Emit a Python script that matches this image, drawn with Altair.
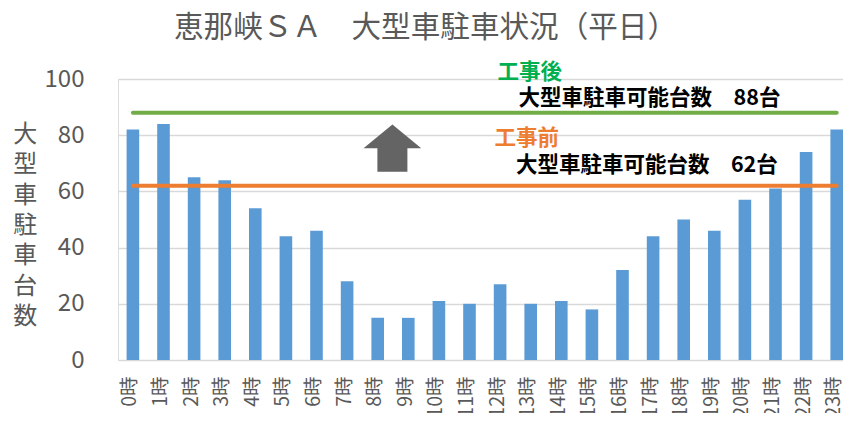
import altair as alt
import pandas as pd

# ---- data ----
hours = ["0時", "1時", "2時", "3時", "4時", "5時", "6時", "7時", "8時", "9時",
         "10時", "11時", "12時", "13時", "14時", "15時", "16時", "17時", "18時",
         "19時", "20時", "21時", "22時", "23時"]
parked = [82, 84, 65, 64, 54, 44, 46, 28, 15, 15, 21, 20, 27, 20, 21, 18,
          32, 44, 50, 46, 57, 61, 74, 82]
capacity_after = 88
capacity_before = 62
y_ticks = [0, 20, 40, 60, 80, 100]

title_text = "恵那峡ＳＡ　大型車駐車状況（平日）"
y_title = "大型車駐車台数"
label_after = "工事後"
label_before = "工事前"
cap_text_after = f"大型車駐車可能台数　{capacity_after}台"
cap_text_before = f"大型車駐車可能台数　{capacity_before}台"

FONT = "'Liberation Sans Narrow', 'Noto Sans CJK JP', sans-serif"
CJK = "'Noto Sans CJK JP', sans-serif"
GREY = "#595959"

bars_df = pd.DataFrame({"hour": hours, "count": parked})
lines_df = pd.DataFrame({
    "hour": [hours[0], hours[-1], hours[0], hours[-1]],
    "value": [capacity_after, capacity_after, capacity_before, capacity_before],
    "series": ["after", "after", "before", "before"],
})

x_scale = alt.Scale(domain=hours, paddingInner=0.588, paddingOuter=0.1405,
                    align=1, round=False)
y_scale = alt.Scale(domain=[0, 100], nice=False)

x_axis = alt.Axis(title=None, labelAngle=270, labelFontSize=19.5, labelFont=FONT,
                  labelColor=GREY, labelPadding=16, labelOffset=-2.5,
                  ticks=False, domain=False, grid=False)
y_axis = alt.Axis(values=y_ticks, title=list(y_title), titleAngle=0,
                  titleFontSize=24, titleFont=CJK, titleColor=GREY,
                  titleFontWeight="normal", titleLineHeight=30.3,
                  titleAlign="center", titleBaseline="top",
                  titleX=-93.3, titleY=43.7,
                  labelFontSize=24, labelFont=FONT, labelColor=GREY,
                  labelPadding=34, ticks=False, domain=False,
                  grid=True, gridColor="#D9D9D9", gridWidth=1.5)

bars = alt.Chart(bars_df).mark_bar(color="#5B9BD5").encode(
    x=alt.X("hour:N", sort=hours, scale=x_scale, axis=x_axis),
    y=alt.Y("count:Q", scale=y_scale, axis=y_axis),
)

lines = alt.Chart(lines_df).mark_line(strokeWidth=4, strokeCap="round").encode(
    x=alt.X("hour:N", sort=hours),
    y=alt.Y("value:Q"),
    color=alt.Color("series:N", scale=alt.Scale(domain=["after", "before"],
                                                range=["#70AD47", "#ED7D31"]),
                    legend=None),
    detail="series:N",
)

arrow_path = "M0,-0.82 L1,0 L0.52,0 L0.52,0.82 L-0.52,0.82 L-0.52,0 L-1,0 Z"
arrow = alt.Chart(pd.DataFrame({"k": [0]})).mark_point(
    shape=arrow_path, size=3329, filled=True, color="#646464", opacity=1,
    strokeWidth=0,
).encode(
    x=alt.datum("8時"),
    y=alt.datum(75.4),
    xOffset=alt.value(21),
)


def note(text, y, dx, color):
    return alt.Chart(pd.DataFrame({"t": [text]})).mark_text(
        align="left", baseline="middle", dx=dx, fontSize=21.5,
        fontWeight="bold", font=FONT, color=color,
    ).encode(x=alt.datum("12時"), y=alt.datum(y), text="t:N")


notes = [
    note(label_after, 102.3, -2.6, "#00B050"),
    note(cap_text_after, 92.8, 18.5, "#000000"),
    note(label_before, 78.6, -5.6, "#ED7D31"),
    note(cap_text_before, 69.1, 15.8, "#000000"),
]

chart = alt.layer(bars, lines, arrow, *notes).properties(
    width=725, height=281,
    title=alt.TitleParams(title_text, fontSize=29.6, font=CJK, color=GREY,
                          fontWeight="normal", anchor="middle", dx=-55,
                          offset=18),
    autosize=alt.AutoSizeParams(type="none"),
    padding={"left": 110, "top": 71, "right": 0, "bottom": 53},
).configure_view(stroke=None).configure(background="white")

chart.save("out.html", embed_options={"renderer": "svg", "actions": False})
